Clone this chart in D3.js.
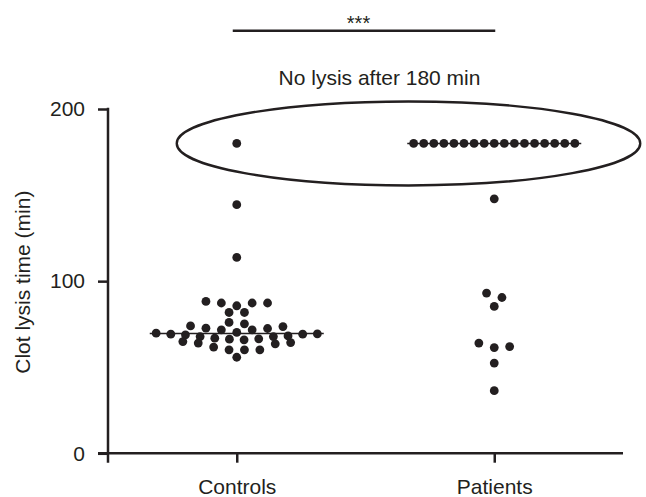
<!DOCTYPE html>
<html>
<head>
<meta charset="utf-8">
<script src="https://cdn.jsdelivr.net/npm/d3@7"></script>
<style>
  html, body { margin: 0; padding: 0; background: #fff; }
  svg { display: block; }
  text { font-family: "Liberation Sans", Arial, Helvetica, sans-serif; fill: #231f20; }
</style>
</head>
<body>
<svg id="chart" width="646" height="497"></svg>
<script>
// Clot lysis time (min) per subject; 180 = no lysis within the 180 min observation window
const categories = ["Controls", "Patients"];
const controlsValues = [
  180, 144.4, 113.8,
  87.3, 87.3, 85.7, 87.3, 88.2,
  81.8, 81.8,
  76.0, 75.2,
  74.0, 72.7, 71.7, 71.7, 72.5, 73.6, 70.2,
  69.4, 69.8, 69.2, 68.2, 66.9, 66.3, 65.9, 66.5, 67.8, 67.8, 68.8, 69.2,
  63.6, 61.7, 60.1, 60.1, 60.1, 64.9, 64.3, 64.0,
  55.8
];
const patientsValues = [
  180, 180, 180, 180, 180, 180, 180, 180, 180, 180, 180, 180, 180, 180, 180, 180, 180,
  147.8, 93.1, 90.5, 85.3, 64.0, 62.0, 61.4, 52.4, 36.4
];
const yTicks = [0, 100, 200];
const yLabel = "Clot lysis time (min)";
const cutoffLabel = "No lysis after 180 min";
const significance = "***";

const ink = "#231f20";
const svg = d3.select("#chart");

const x = d3.scalePoint().domain(categories).range([108, 623]).padding(0.5);
const y = d3.scaleLinear().domain([0, 200]).range([453.3, 109]);

const groups = [
  { name: "Controls", values: controlsValues },
  { name: "Patients", values: patientsValues }
];

// Scatter-dot layout: values are binned by symbol height, each bin forms a row
// that is spread horizontally from the centre outwards (lowest value in the middle).
const dotR = 4.4;
const binMin = 5;           // minutes per row bin
const colStep = 15.4;       // horizontal spacing between neighbours in a row
const medianHalf = 87;      // half-width of the median line
const maxRow = 2 * medianHalf - 2 * dotR - 4;

function swarm(values, cx) {
  const bins = d3.group(values, v => Math.floor(v / binMin));
  const out = [];
  for (const [, vals] of bins) {
    const sorted = vals.slice().sort(d3.ascending);
    const n = sorted.length;
    const step = n > 1 ? Math.min(colStep, maxRow / (n - 1)) : 0;
    const offsets = d3.range(n).map(i => (i - (n - 1) / 2) * step)
      .sort((a, b) => Math.abs(a) - Math.abs(b) || b - a);
    sorted.forEach((v, i) => out.push({ value: v, x: cx + offsets[i] }));
  }
  return out;
}

// Axes
const yAxis = d3.axisLeft(y).tickValues(yTicks).tickSize(10).tickSizeOuter(0).tickPadding(13);
const yg = svg.append("g").attr("transform", "translate(108,0)").call(yAxis);
yg.select(".domain").remove();
yg.selectAll(".tick line").attr("stroke", ink).attr("stroke-width", 2.5);
yg.selectAll(".tick text").attr("font-size", 21).style("font-family", "Liberation Sans, Arial, sans-serif").attr("fill", ink);

const xAxis = d3.axisBottom(x).tickSize(9.4).tickSizeOuter(0).tickPadding(16.5);
const xg = svg.append("g").attr("transform", `translate(0,${y(0)})`).call(xAxis);
xg.select(".domain").remove();
xg.selectAll(".tick line").attr("stroke", ink).attr("stroke-width", 2.5);
xg.selectAll(".tick text").attr("font-size", 21).style("font-family", "Liberation Sans, Arial, sans-serif").attr("fill", ink);

// axis lines (y-axis runs down to the x tick length, x-axis from the y tick end)
svg.append("line")
  .attr("x1", 108).attr("x2", 108)
  .attr("y1", y(200) - 1.2).attr("y2", y(0) + 9.4)
  .attr("stroke", ink).attr("stroke-width", 2.5);
svg.append("line")
  .attr("x1", 98).attr("x2", 623)
  .attr("y1", y(0)).attr("y2", y(0))
  .attr("stroke", ink).attr("stroke-width", 2.5);

// y-axis title
svg.append("text")
  .attr("transform", `translate(30,${(y(0) + y(200)) / 2 + 1}) rotate(-90)`)
  .attr("text-anchor", "middle")
  .attr("font-size", 21)
  .text(yLabel);

// Median lines and dots
groups.forEach(g => {
  const cx = x(g.name);
  const med = d3.median(g.values);
  svg.append("line")
    .attr("x1", cx - medianHalf).attr("x2", cx + medianHalf)
    .attr("y1", y(med)).attr("y2", y(med))
    .attr("stroke", ink).attr("stroke-width", 1.6);
  svg.append("g").selectAll("circle")
    .data(swarm(g.values, cx))
    .join("circle")
    .attr("cx", d => d.x)
    .attr("cy", d => y(d.value))
    .attr("r", dotR)
    .attr("fill", ink);
});

// Ellipse marking the non-lysed samples at 180 min
const ellLeft = x("Controls") - 60;
const ellRight = x("Patients") + 146;
svg.append("ellipse")
  .attr("cx", (ellLeft + ellRight) / 2)
  .attr("cy", y(180))
  .attr("rx", (ellRight - ellLeft) / 2)
  .attr("ry", 42)
  .attr("fill", "none")
  .attr("stroke", ink)
  .attr("stroke-width", 2.4);

svg.append("text")
  .attr("x", (x("Controls") + x("Patients")) / 2 + 14)
  .attr("y", 85)
  .attr("text-anchor", "middle")
  .attr("font-size", 21)
  .text(cutoffLabel);

// Significance bracket
svg.append("line")
  .attr("x1", x("Controls") - 4).attr("x2", x("Patients") + 1)
  .attr("y1", 30.7).attr("y2", 30.7)
  .attr("stroke", ink).attr("stroke-width", 2.5);
svg.append("text")
  .attr("x", (x("Controls") + x("Patients")) / 2 - 7)
  .attr("y", 29.5)
  .attr("text-anchor", "middle")
  .attr("font-size", 20)
  .text(significance);
</script>
</body>
</html>
